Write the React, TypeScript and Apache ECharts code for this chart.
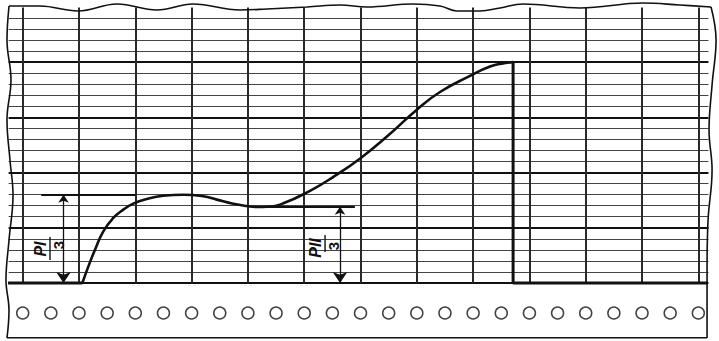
import React, { useEffect, useRef } from "react";
import * as echarts from "echarts";

// Chart-recorder paper: 12 vertical divisions, 25 horizontal divisions
const vGridX = [0, 1, 2, 3, 4, 5, 6, 7, 8, 9, 10, 11, 12];
const hGridY = [0, 1, 2, 3, 4, 5, 6, 7, 8, 9, 10, 11, 12, 13, 14, 15, 16, 17, 18, 19, 20, 21, 22, 23, 24];
const majorY = [0, 5, 10, 15, 20];

// Recorded pen trace
const curveX = [1.06, 1.165, 1.284, 1.432, 1.609, 1.787, 1.964, 2.202, 2.497, 2.853, 3.208, 3.446, 3.718, 3.979, 4.179, 4.339, 4.629, 5.103, 5.5, 6.0, 6.5, 7.0, 7.412, 7.945, 8.3, 8.55, 8.71];
const curveY = [0, 1.48, 3.01, 4.68, 5.89, 6.64, 7.19, 7.61, 7.9, 7.99, 7.85, 7.55, 7.2, 6.97, 6.88, 6.9, 7.22, 8.35, 9.55, 11.3, 13.4, 15.7, 17.3, 18.75, 19.6, 19.9, 20.0];
const penStartX = -0.26;
const dropX = 8.71;
const penEndX = 12.17;

// Annotations (P_I/3, P_II/3)
const arrowX = [0.725, 5.636];
const arrowTopY = [8, 6.9];
const refLineFrom = [0.33, 4.34];
const refLineTo = [2.0, 5.9];
const labelX = [0.485, 5.37];
const labelY = [3.17, 3.44];
const labelNum = ["P", "P"];
const labelSub = ["I", "II"];
const labelDen = ["3", "3"];

// Perforation holes
const holeX = [0, 0.5, 1, 1.5, 2, 2.5, 3, 3.5, 4, 4.5, 5, 5.5, 6, 6.5, 7, 7.5, 8, 8.5, 9, 9.5, 10, 10.5, 11, 11.5, 12];
const holeY = -2.72;

// Torn paper edges
const topEdgeX = [-0.243, 0.307, 0.982, 1.675, 2.385, 3.025, 3.859, 4.339, 5.05, 5.636, 6.115, 6.932, 7.412, 7.714, 8.122, 8.478, 8.886, 9.9, 11.02, 11.67, 12.226];
const topEdgeY = [25.09, 25.09, 24.64, 25.27, 24.73, 25.27, 24.73, 24.82, 25.0, 25.18, 25.0, 25.27, 25.09, 24.64, 24.64, 24.91, 25.27, 24.91, 25.36, 25.18, 25.0];
const leftEdgeX = [-0.243, -0.279, -0.208, -0.279, -0.226, -0.172, -0.243, -0.297, -0.243, -0.279];
const leftEdgeY = [25.09, 22.01, 18.39, 14.76, 11.14, 7.97, 3.89, 0.27, -2.45, -4.98];
const rightEdgeX = [12.226, 12.315, 12.244, 12.19, 12.244, 12.173, 12.155, 12.155, 12.155];
const rightEdgeY = [25.0, 22.01, 17.93, 13.86, 10.24, 5.71, 1.18, -1.54, -4.98];
const bottomEdgeY = -4.96;

const zip = (xs: number[], ys: number[]) => xs.map((x, i) => [x, ys[i]]);

export default function App() {
  const ref = useRef<HTMLDivElement>(null);
  useEffect(() => {
    if (!ref.current) return;
    const chart = echarts.init(ref.current, undefined, { renderer: "svg" });
    const ink = "#111";
    const edgeStyle = { color: ink, width: 1.6 };
    const font = "Liberation Sans, Arial, sans-serif";

    const option: any = {
      animation: false,
      backgroundColor: "#fff",
      grid: { left: 2.995, top: 0, width: 715.6, height: 338.2 },
      xAxis: { type: "value", min: -0.35, max: 12.36, show: false },
      yAxis: { type: "value", min: -5, max: 25.63, show: false },
      series: [
        {
          name: "hgrid",
          type: "lines",
          coordinateSystem: "cartesian2d",
          silent: true,
          z: 1,
          data: hGridY.map((y) => ({
            coords: [[-0.25, y], [12.18, y]],
            lineStyle: majorY.includes(y)
              ? { color: "#111", width: 1.8, opacity: 1 }
              : { color: "#444", width: 1.2, opacity: 1 },
          })),
        },
        {
          name: "vgrid",
          type: "lines",
          coordinateSystem: "cartesian2d",
          silent: true,
          z: 2,
          lineStyle: { color: "#2a2a2a", width: 2, opacity: 1 },
          data: vGridX.map((x) => ({ coords: [[x, 0], [x, 24.95]] })),
        },
        {
          name: "edges",
          type: "line",
          showSymbol: false,
          smooth: 0.4,
          z: 3,
          lineStyle: edgeStyle,
          data: zip(topEdgeX, topEdgeY),
        },
        {
          name: "leftEdge",
          type: "line",
          showSymbol: false,
          smooth: 0.4,
          z: 3,
          lineStyle: edgeStyle,
          data: zip(leftEdgeX, leftEdgeY),
        },
        {
          name: "rightEdge",
          type: "line",
          showSymbol: false,
          smooth: 0.4,
          z: 3,
          lineStyle: edgeStyle,
          data: zip(rightEdgeX, rightEdgeY),
        },
        {
          name: "bottomEdge",
          type: "line",
          showSymbol: false,
          z: 3,
          lineStyle: edgeStyle,
          data: [[leftEdgeX[leftEdgeX.length - 1], bottomEdgeY], [rightEdgeX[rightEdgeX.length - 1], bottomEdgeY]],
        },
        {
          name: "holes",
          type: "scatter",
          symbol: "circle",
          symbolSize: 12,
          z: 4,
          itemStyle: { color: "#fff", borderColor: ink, borderWidth: 1.5 },
          data: holeX.map((x) => [x, holeY]),
        },
        {
          name: "refLines",
          type: "lines",
          coordinateSystem: "cartesian2d",
          silent: true,
          z: 5,
          lineStyle: { color: ink, width: 1.8, opacity: 1 },
          data: refLineFrom.map((x, i) => ({ coords: [[x, arrowTopY[i]], [refLineTo[i], arrowTopY[i]]] })),
        },
        {
          name: "arrows",
          type: "lines",
          coordinateSystem: "cartesian2d",
          silent: true,
          z: 6,
          symbol: ["arrow", "arrow"],
          symbolSize: [8, 11],
          lineStyle: { color: ink, width: 1.3, opacity: 1 },
          data: arrowX.map((x, i) => ({ coords: [[x, arrowTopY[i]], [x, 0]] })),
        },
        {
          name: "penStart",
          type: "line",
          showSymbol: false,
          z: 7,
          lineStyle: { color: ink, width: 3 },
          data: [[penStartX, 0], [curveX[0], 0]],
        },
        {
          name: "pen",
          type: "line",
          showSymbol: false,
          smooth: 0.5,
          z: 7,
          lineStyle: { color: ink, width: 2.6 },
          data: zip(curveX, curveY),
        },
        {
          name: "penEnd",
          type: "line",
          showSymbol: false,
          z: 7,
          lineStyle: { color: ink, width: 3 },
          data: [[dropX, curveY[curveY.length - 1]], [dropX, 0], [penEndX, 0]],
        },
        {
          name: "labels",
          type: "custom",
          z: 8,
          silent: true,
          data: labelX.map((x, i) => [x, labelY[i], i]),
          renderItem: (params: any, api: any) => {
            const i = params.dataIndex;
            const p = api.coord([api.value(0), api.value(1)]);
            const two = labelSub[i].length > 1;
            const base = {
              fontFamily: font,
              fontWeight: "bold",
              fill: ink,
              verticalAlign: "middle",
            };
            return {
              type: "group",
              x: p[0],
              y: p[1],
              rotation: Math.PI / 2,
              children: [
                {
                  type: "text",
                  style: {
                    ...base,
                    text: labelNum[i] + labelSub[i],
                    fontSize: 16,
                    fontStyle: "italic",
                    align: "center",
                    x: two ? -3 : -1,
                    y: -10,
                  },
                },
                {
                  type: "line",
                  shape: { x1: two ? -7 : -12, y1: 0, x2: two ? 10 : 11, y2: 0 },
                  style: { stroke: ink, lineWidth: 1.4 },
                },
                {
                  type: "text",
                  style: {
                    ...base,
                    text: labelDen[i],
                    fontSize: 15,
                    align: "center",
                    x: two ? -1 : 3,
                    y: 8,
                  },
                },
              ],
            };
          },
        },
      ],
    };
    chart.setOption(option);
    return () => chart.dispose();
  }, []);
  return (
    <div
      ref={ref}
      style={{ position: "fixed", left: 0, top: 0, width: 719, height: 341, background: "#fff" }}
    />
  );
}
